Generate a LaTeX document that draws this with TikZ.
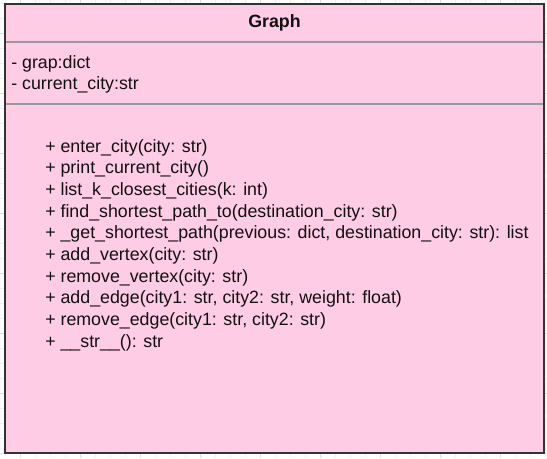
\documentclass[tikz,border=0pt]{standalone}
\usepackage{fontspec}
\setmainfont{Liberation Sans}
\definecolor{classpink}{HTML}{FFCCE5}
\definecolor{minorgrid}{HTML}{F0F0F0}
\definecolor{majorgrid}{HTML}{DEDEDE}
\definecolor{divgray}{HTML}{999999}
\definecolor{bordergray}{HTML}{333333}
\definecolor{txt}{HTML}{111111}
\tikzset{
  member/.style={anchor=base west, inner sep=0pt, font=\fontsize{13.35}{15}\selectfont, text=txt},
  titletext/.style={anchor=base, inner sep=0pt, font=\fontsize{13.35}{15}\selectfont\bfseries, text=txt},
  classbox/.style={draw=bordergray, line width=1.3pt, fill=classpink},
  divider/.style={draw=divgray, line width=1.1pt}
}
\begin{document}
\begin{tikzpicture}[x=0.75pt, y=-0.75pt]
\useasboundingbox (0,0) rectangle (547,458);
\fill[white] (0,0) rectangle (547,458);
% grid
\foreach \gx in {5,20,...,545} \draw[minorgrid, line width=0.6pt] (\gx,0) -- (\gx,458);
\foreach \gy in {3,18,...,458} \draw[minorgrid, line width=0.6pt] (0,\gy) -- (547,\gy);
\foreach \gx in {20,80,...,545} \draw[majorgrid, line width=0.6pt] (\gx,0) -- (\gx,458);
\foreach \gy in {33,93,...,458} \draw[majorgrid, line width=0.6pt] (0,\gy) -- (547,\gy);
% class box
\coordinate (tl) at (5,4);
\coordinate (br) at (544,453);
\path[classbox] (tl) rectangle (br);
\coordinate (d1l) at (5,42);
\coordinate (d1r) at (544,42);
\coordinate (d2l) at (5,104);
\coordinate (d2r) at (544,104);
\draw[divider] (d1l) -- (d1r);
\draw[divider] (d2l) -- (d2r);
\draw[bordergray, line width=1.3pt] (tl) rectangle (br);
% title
\node[titletext] (title) at (274.5,27) {Graph};
% attributes
\node[member] (a1) at (11,68) {- grap:dict};
\node[member] (a2) at (11,89) {- current\_city:str};
% methods
\node[member] (m1) at (45,152) {+ enter\_city(city: str)};
\node[member] (m2) at (45,173.7) {+ print\_current\_city()};
\node[member] (m3) at (45,195.4) {+ list\_k\_closest\_cities(k: int)};
\node[member] (m4) at (45,217.1) {+ find\_shortest\_path\_to(destination\_city: str)};
\node[member] (m5) at (45,238.8) {+ \_get\_shortest\_path(previous: dict, destination\_city: str): list};
\node[member] (m6) at (45,260.5) {+ add\_vertex(city: str)};
\node[member] (m7) at (45,282.2) {+ remove\_vertex(city: str)};
\node[member] (m8) at (45,303.9) {+ add\_edge(city1: str, city2: str, weight: float)};
\node[member] (m9) at (45,325.6) {+ remove\_edge(city1: str, city2: str)};
\node[member] (m10) at (45,347.3) {+ \_\_str\_\_(): str};
\end{tikzpicture}
\end{document}
